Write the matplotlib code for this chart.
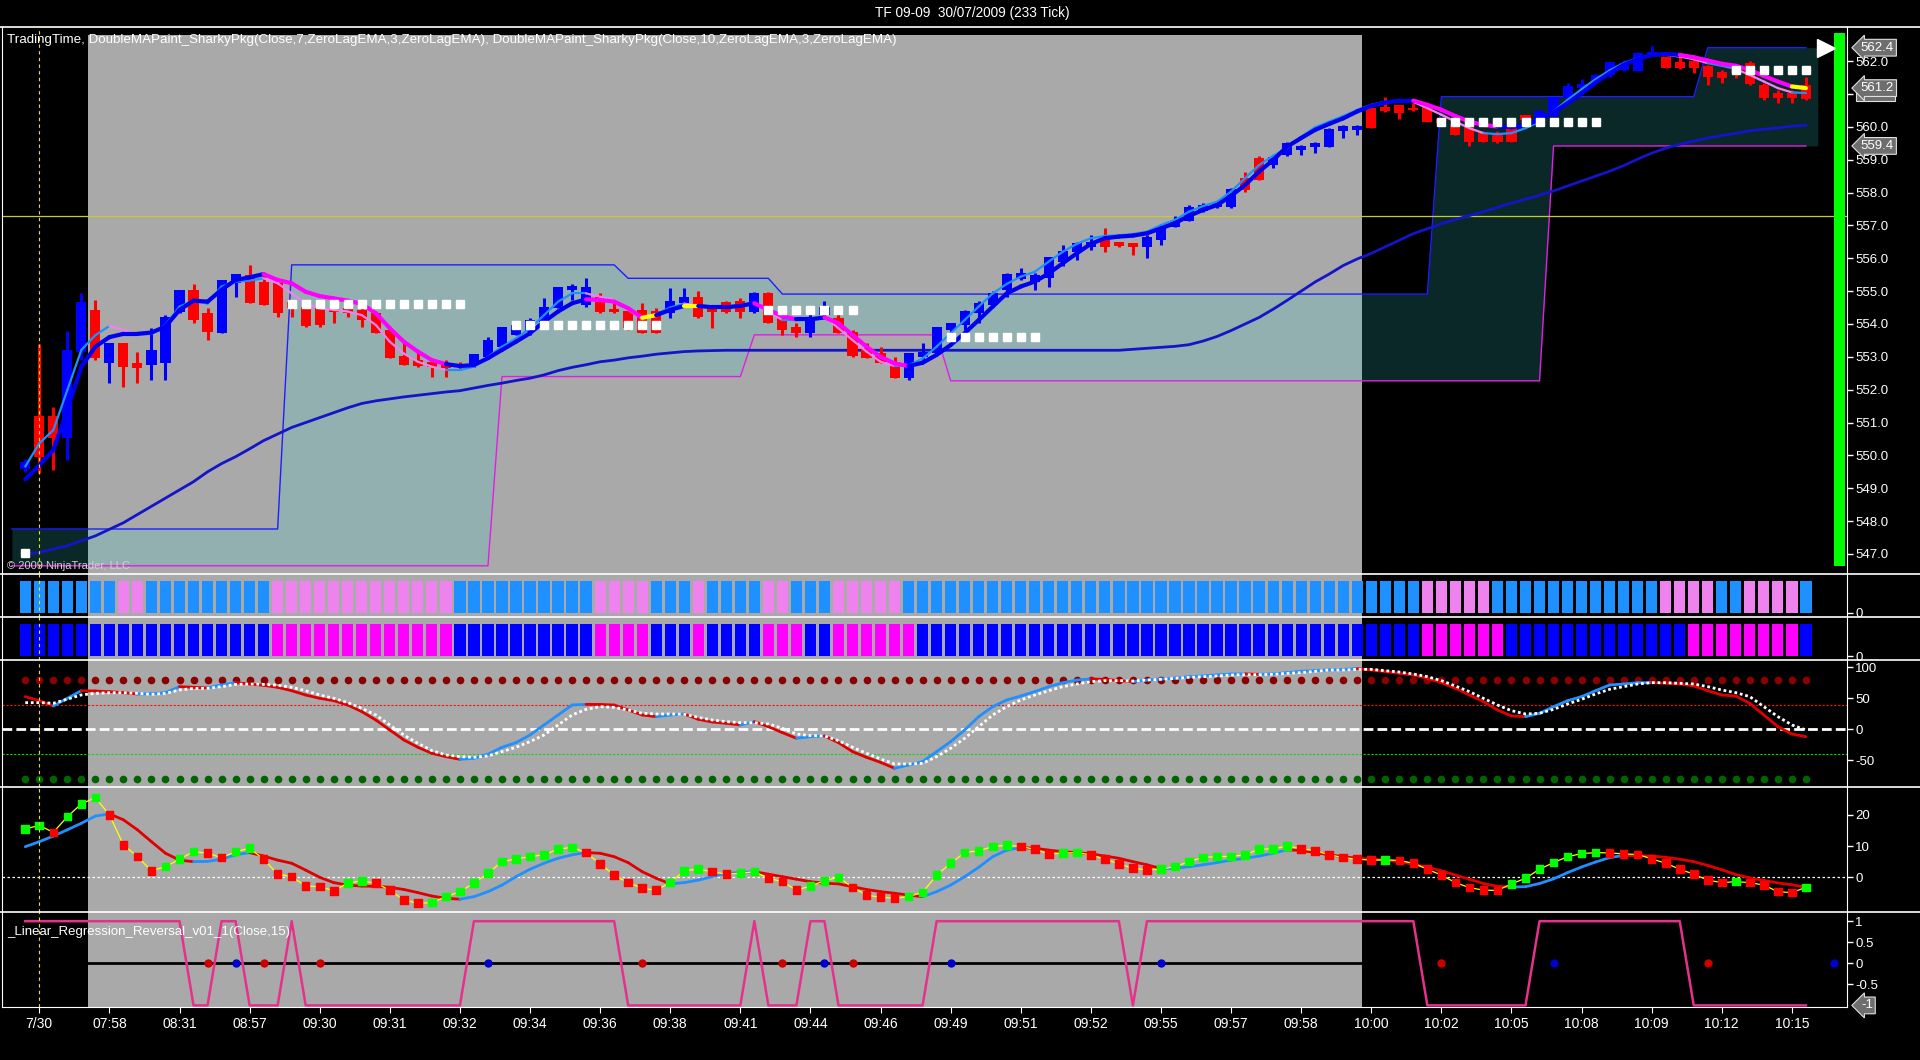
import numpy as np
import matplotlib
matplotlib.use("Agg")
import matplotlib.pyplot as plt
from matplotlib.collections import LineCollection
from matplotlib.lines import Line2D
from matplotlib.patches import Rectangle

plt.rcParams['font.family'] = ['Liberation Sans', 'DejaVu Sans']

chart_title = "TF 09-09  30/07/2009 (233 Tick)"
price_label = ("TradingTime, DoubleMAPaint_SharkyPkg(Close,7,ZeroLagEMA,3,ZeroLagEMA), "
               "DoubleMAPaint_SharkyPkg(Close,10,ZeroLagEMA,3,ZeroLagEMA)")
lrr_label = "_Linear_Regression_Reversal_v01_1(Close,15)"
copyright_text = "\u00a9 2009 NinjaTrader, LLC"

time_labels = ["7/30", "07:58", "08:31", "08:57", "09:30", "09:31", "09:32", "09:34",
               "09:36", "09:38", "09:41", "09:44", "09:46", "09:49", "09:51", "09:52",
               "09:55", "09:57", "09:58", "10:00", "10:02", "10:05", "10:08", "10:09",
               "10:12", "10:15"]
label_first, label_every = 1, 5

# session shading (TradingTime) and day break, in bar units
session_start, session_end = 4.5, 95.35
session_break = 1

# --- price bars ---
opens = [549.6, 551.2, 551.2, 550.52, 553.15, 554.43, 552.8, 553.41, 552.8, 552.75,
         552.82, 554.38, 555.04, 554.33, 553.74, 555.24, 555.49, 555.29, 555.24, 554.68,
         554.53, 554.48, 554.48, 554.48, 554.43, 554.33, 553.82, 553.03, 552.9, 552.85,
         552.8, 552.78, 552.75, 553.0, 553.31, 553.66, 553.77, 554.07, 554.48, 555.02,
         554.58, 554.83, 554.45, 554.41, 554.42, 554.4, 554.33, 554.63, 554.81, 554.53,
         554.66, 554.71, 554.35, 554.95, 554.17, 553.92, 553.72, 554.27, 554.17, 553.77,
         553.26, 553.11, 552.85, 552.35, 553.0, 553.13, 553.82, 553.97, 554.33, 554.58,
         555.04, 555.36, 555.29, 555.39, 555.9, 556.2, 556.35, 556.61, 556.51, 556.46,
         556.35, 556.56, 556.96, 557.15, 557.45, 557.57, 557.57, 558.44, 559.04, 558.84,
         559.15, 559.3, 559.4, 559.38, 559.86, 559.89, 560.57, 560.62, 560.67, 560.57,
         560.64, 560.23, 560.06, 559.99, 559.84, 559.81, 559.99, 560.36, 560.16, 560.33,
         560.87, 561.18, 561.38, 561.58, 561.74, 561.69, 562.19, 562.14, 561.96, 561.99,
         561.84, 561.66, 561.74, 561.94, 561.28, 561.02, 561.02, 561.28]
highs = [549.9, 553.38, 551.48, 553.79, 554.93, 554.73, 553.41, 553.41, 553.16, 553.87,
         554.27, 555.04, 555.21, 554.48, 555.34, 555.52, 555.80, 555.49, 555.24, 554.73,
         554.58, 554.58, 554.58, 554.63, 554.58, 554.38, 553.82, 553.51, 553.21, 552.9,
         552.9, 552.85, 553.1, 553.6, 553.92, 554.02, 554.17, 554.78, 555.14, 555.21,
         555.39, 554.93, 554.63, 554.43, 554.63, 554.48, 555.09, 555.09, 555.0, 554.53,
         554.71, 554.78, 554.98, 554.98, 554.42, 554.02, 554.42, 554.71, 554.42, 553.82,
         553.41, 553.31, 553.0, 553.11, 553.41, 553.92, 554.02, 554.42, 554.71, 555.0,
         555.54, 555.7, 555.54, 556.05, 556.41, 556.51, 556.71, 556.93, 556.51, 556.48,
         556.71, 556.96, 557.29, 557.62, 557.69, 557.72, 558.13, 558.64, 559.11, 559.14,
         559.55, 559.45, 559.55, 559.96, 560.06, 560.06, 560.62, 560.92, 560.67, 560.72,
         560.67, 560.26, 560.11, 560.01, 559.86, 559.86, 560.03, 560.37, 560.52, 560.92,
         561.33, 561.45, 561.61, 561.96, 562.04, 562.29, 562.45, 562.14, 562.14, 562.09,
         561.89, 561.74, 561.79, 561.99, 561.33, 561.13, 561.13, 561.53]
lows = [549.5, 549.47, 549.55, 549.86, 552.9, 552.9, 552.19, 552.09, 552.19, 552.29,
        552.29, 554.32, 554.02, 553.51, 553.74, 554.81, 554.63, 554.58, 554.22, 554.22,
        553.92, 553.92, 554.02, 554.22, 553.92, 553.74, 552.96, 552.75, 552.7, 552.4,
        552.4, 552.6, 552.7, 553.0, 553.31, 553.66, 553.66, 554.07, 554.48, 554.73,
        554.53, 554.33, 554.33, 553.82, 553.72, 553.72, 554.17, 554.58, 554.17, 553.87,
        554.33, 554.17, 554.33, 554.02, 553.67, 553.61, 553.61, 554.22, 553.72, 553.0,
        552.95, 552.8, 552.35, 552.3, 552.8, 553.11, 553.72, 553.82, 554.02, 554.58,
        554.83, 555.34, 555.04, 555.14, 555.75, 555.95, 556.25, 556.2, 556.35, 556.1,
        556.0, 556.41, 556.96, 557.12, 557.42, 557.52, 557.52, 558.03, 558.37, 558.74,
        559.1, 559.15, 559.2, 559.38, 559.66, 559.76, 559.96, 560.44, 560.23, 560.47,
        560.16, 560.11, 559.76, 559.42, 559.55, 559.5, 559.55, 560.21, 560.13, 560.26,
        560.87, 561.15, 561.35, 561.53, 561.69, 561.69, 562.19, 561.79, 561.76, 561.63,
        561.28, 561.33, 561.48, 561.28, 560.82, 560.72, 560.74, 560.82]
closes = [549.8, 549.96, 550.52, 553.21, 554.66, 552.95, 553.41, 552.7, 552.65, 553.21,
          554.22, 555.04, 554.12, 553.77, 555.34, 555.52, 554.63, 554.58, 554.33, 554.48,
          553.94, 553.97, 554.38, 554.33, 554.12, 553.74, 552.96, 552.75, 552.72, 552.7,
          552.65, 552.68, 553.1, 553.51, 553.9, 553.97, 554.12, 554.53, 555.14, 555.16,
          555.14, 554.35, 554.35, 553.87, 553.74, 553.74, 554.71, 554.81, 554.22, 554.38,
          554.35, 554.38, 554.95, 554.04, 553.82, 553.72, 554.17, 554.53, 553.74, 553.03,
          552.95, 552.82, 552.35, 553.11, 553.16, 553.9, 554.02, 554.4, 554.65, 554.95,
          555.52, 555.54, 555.49, 556.03, 556.23, 556.46, 556.51, 556.33, 556.38, 556.35,
          556.66, 556.91, 557.12, 557.55, 557.62, 557.67, 558.11, 558.08, 558.38, 559.09,
          559.5, 559.42, 559.52, 559.93, 560.03, 560.03, 559.96, 560.47, 560.42, 560.5,
          560.16, 560.13, 559.76, 559.55, 559.55, 559.55, 559.55, 560.22, 560.47, 560.9,
          561.25, 561.31, 561.58, 561.96, 561.94, 562.24, 562.29, 561.79, 561.79, 561.79,
          561.53, 561.48, 561.63, 561.31, 560.87, 560.87, 560.87, 560.84]

# --- moving averages on price ---
ma_slow = [549.27, 549.7, 550.16, 551.38, 552.7, 553.31, 553.6, 553.7, 553.7, 553.74,
           553.92, 554.43, 554.71, 554.68, 555.04, 555.34, 555.42, 555.52, 555.34, 555.24,
           554.98, 554.85, 554.78, 554.71, 554.61, 554.33, 553.87, 553.46, 553.16, 552.9,
           552.78, 552.72, 552.75, 552.96, 553.21, 553.46, 553.72, 554.07, 554.38, 554.63,
           554.75, 554.73, 554.68, 554.48, 554.19, 554.27, 554.43, 554.55, 554.55, 554.51,
           554.51, 554.55, 554.63, 554.43, 554.24, 554.14, 554.14, 554.2, 554.02, 553.67,
           553.31, 553.0, 552.8, 552.72, 552.82, 553.06, 553.36, 553.72, 554.12, 554.53,
           554.93, 555.14, 555.29, 555.54, 555.85, 556.15, 556.44, 556.61, 556.66, 556.69,
           556.76, 556.91, 557.07, 557.29, 557.47, 557.62, 557.9, 558.23, 558.64, 558.99,
           559.4, 559.66, 559.91, 560.09, 560.26, 560.47, 560.64, 560.74, 560.8, 560.8,
           560.67, 560.52, 560.33, 560.16, 560.06, 560.01, 559.99, 560.06, 560.21, 560.44,
           560.72, 561.02, 561.35, 561.63, 561.89, 562.06, 562.19, 562.22, 562.19, 562.12,
           562.02, 561.92, 561.86, 561.73, 561.55, 561.38, 561.23, 561.18]
ma_fast = [549.66, 550.37, 550.77, 551.99, 553.21, 553.66, 553.94, 553.82, 553.68, 553.7,
           553.97, 554.53, 554.71, 554.62, 555.14, 555.29, 555.32, 555.39, 555.24, 554.93,
           554.63, 554.48, 554.43, 554.38, 554.27, 553.97, 553.46, 553.1, 552.85, 552.7,
           552.6, 552.6, 552.7, 553.0, 553.31, 553.56, 553.87, 554.27, 554.68, 554.93,
           554.93, 554.83, 554.73, 554.43, 554.15, 554.3, 554.5, 554.62, 554.55, 554.5,
           554.53, 554.58, 554.66, 554.38, 554.12, 554.12, 554.17, 554.22, 553.87, 553.51,
           553.16, 552.85, 552.72, 552.74, 552.95, 553.31, 553.72, 554.12, 554.53, 554.93,
           555.22, 555.44, 555.59, 555.9, 556.2, 556.44, 556.61, 556.68, 556.7, 556.74,
           556.81, 557.01, 557.17, 557.42, 557.59, 557.72, 558.03, 558.44, 558.84, 559.12,
           559.35, 559.7, 559.99, 560.16, 560.33, 560.52, 560.67, 560.77, 560.8, 560.76,
           560.57, 560.37, 560.16, 559.96, 559.81, 559.78, 559.81, 559.96, 560.16, 560.47,
           560.82, 561.15, 561.45, 561.72, 561.94, 562.09, 562.19, 562.19, 562.14, 562.06,
           561.94, 561.86, 561.76, 561.58, 561.38, 561.18, 561.05, 561.03]
ma_long = [547.0, 547.05, 547.15, 547.25, 547.4, 547.55, 547.75, 547.95, 548.2, 548.45,
           548.7, 548.95, 549.2, 549.5, 549.75, 549.96, 550.2, 550.45, 550.65, 550.85,
           551.0, 551.15, 551.3, 551.45, 551.58, 551.66, 551.72, 551.78, 551.83, 551.88,
           551.93, 551.97, 552.05, 552.13, 552.2, 552.28, 552.35, 552.45, 552.58, 552.68,
           552.76, 552.85, 552.9, 552.97, 553.02, 553.08, 553.12, 553.16, 553.18, 553.19,
           553.2, 553.2, 553.2, 553.2, 553.2, 553.2, 553.2, 553.2, 553.2, 553.2,
           553.2, 553.2, 553.2, 553.2, 553.2, 553.2, 553.2, 553.2, 553.2, 553.2,
           553.2, 553.2, 553.2, 553.2, 553.2, 553.2, 553.2, 553.2, 553.2, 553.23,
           553.26, 553.29, 553.32, 553.37, 553.48, 553.62, 553.8, 554.0, 554.2, 554.45,
           554.72, 555.0, 555.28, 555.52, 555.78, 555.98, 556.15, 556.35, 556.55, 556.75,
           556.9, 557.05, 557.18, 557.3, 557.42, 557.55, 557.68, 557.8, 557.92, 558.05,
           558.2, 558.35, 558.5, 558.65, 558.82, 559.02, 559.2, 559.35, 559.47, 559.57,
           559.66, 559.74, 559.8, 559.88, 559.93, 559.97, 560.02, 560.05]
cross_marks = [44, 47, 126]   # bars where the slow MA segment is painted yellow

# channel (step lines): level and first bar of each step
upper_levels = [547.76, 555.80, 555.39, 554.91, 560.92, 562.41]
upper_starts = [0, 19, 43, 54, 101, 120]
lower_levels = [546.64, 552.40, 553.67, 552.27, 559.42]
lower_starts = [0, 34, 52, 66, 109]

ref_level = 557.3
# white level dots: first bar, last bar, price
dot_rows = [(0, 0, 547.03), (19, 31, 554.6), (35, 45, 553.97), (53, 59, 554.43),
            (66, 72, 553.61), (101, 112, 560.16), (122, 127, 561.74)]
green_bar_low, green_bar_high = 546.63, 562.86

# trend paint panels: (state, run length), 1 = up
fast_runs = [(1, 7), (0, 2), (1, 9), (0, 13), (1, 10), (0, 4), (1, 3), (0, 1), (1, 4), (0, 2),
             (1, 3), (0, 5), (1, 37), (0, 5), (1, 12), (0, 4), (1, 2), (0, 4), (1, 1)]
slow_runs = [(1, 18), (0, 13), (1, 10), (0, 4), (1, 3), (0, 1), (1, 4), (0, 3), (1, 2), (0, 6),
             (1, 36), (0, 6), (1, 13), (0, 8), (1, 1)]

# --- oscillator panel ---
osc_main = [52.7, 46.2, 37.6, 50.0, 62.3, 61.8, 60.7, 59.1, 57.0, 57.3,
            59.0, 68.8, 67.7, 66.6, 71.5, 75.2, 73.1, 71.0, 67.7, 62.3,
            55.3, 50.0, 46.2, 39.2, 28.5, 15.0, -1.1, -17.2, -29.0, -38.7,
            -44.1, -48.4, -46.8, -40.3, -29.0, -21.5, -9.2, 7.0, 23.1, 39.2,
            40.3, 40.1, 39.2, 31.2, 23.1, 20.4, 23.1, 24.7, 16.1, 11.8,
            9.7, 7.0, 12.3, 4.3, -5.4, -14.5, -11.9, -10.8, -21.5, -36.0,
            -45.2, -53.3, -62.9, -57.6, -52.2, -36.0, -19.9, -1.1, 20.4, 36.5,
            47.3, 53.7, 60.7, 68.8, 75.2, 79.5, 81.2, 80.6, 78.5, 76.9,
            79.5, 81.2, 82.2, 84.9, 86.0, 87.6, 89.2, 89.3, 88.7, 89.2,
            91.4, 93.5, 94.6, 95.7, 96.7, 97.8, 95.7, 93.0, 90.3, 87.6,
            82.2, 75.2, 66.1, 55.3, 44.6, 31.2, 21.5, 20.4, 25.8, 36.5,
            46.2, 52.7, 62.3, 71.5, 73.1, 75.2, 75.3, 74.2, 73.1, 69.9,
            62.3, 55.3, 53.7, 41.9, 23.1, 4.3, -7.6, -11.9]
osc_signal = [43.0, 43.0, 42.0, 48.6, 55.5, 58.0, 59.0, 59.0, 58.0, 56.4,
              58.0, 63.4, 66.0, 66.0, 68.8, 72.5, 73.1, 72.5, 71.0, 67.7,
              62.3, 55.3, 50.0, 43.0, 33.8, 23.1, 7.0, -9.2, -22.6, -34.4,
              -41.4, -44.1, -45.2, -43.0, -36.0, -29.0, -19.9, -9.2, 7.0, 23.1,
              32.2, 36.5, 35.4, 31.2, 25.8, 24.7, 24.7, 24.2, 19.3, 15.0,
              12.3, 10.7, 10.7, 8.6, 1.6, -7.6, -10.2, -10.8, -18.3, -29.0,
              -38.7, -47.9, -55.9, -55.9, -54.9, -44.1, -30.7, -14.5, 4.3, 23.1,
              36.5, 47.3, 55.3, 62.3, 68.8, 73.1, 76.9, 78.5, 78.5, 77.9,
              79.5, 80.6, 82.2, 83.8, 84.9, 86.0, 87.6, 88.1, 88.1, 88.7,
              90.3, 91.4, 93.5, 95.7, 95.7, 96.7, 96.7, 94.6, 92.4, 89.2,
              84.9, 78.5, 69.9, 60.7, 50.0, 39.2, 30.1, 24.7, 25.8, 32.2,
              40.8, 48.4, 57.0, 64.5, 68.8, 73.1, 75.2, 75.2, 74.2, 73.1,
              68.8, 63.4, 59.1, 52.7, 36.5, 20.4, 7.0, -1.1]
osc_levels = {"ob_dots": 80, "ob_line": 40, "os_line": -40, "os_dots": -80}

# --- momentum panel ---
mom_line = [9.8, 11.4, 13.2, 15.2, 17.3, 19.6, 20.3, 18.4, 15.2, 11.4,
            7.7, 5.5, 5.0, 5.1, 5.8, 7.2, 7.9, 6.8, 5.5, 4.5,
            2.3, 0.0, -1.7, -2.5, -2.8, -2.9, -3.2, -3.9, -4.9, -6.0,
            -6.7, -7.0, -6.2, -4.6, -2.5, 0.2, 2.6, 4.5, 6.1, 7.2,
            7.9, 7.7, 6.6, 4.7, 1.8, -0.3, -2.1, -1.7, -0.9, 0.2,
            1.3, 1.5, 1.8, 1.0, 0.2, -0.6, -1.4, -1.9, -2.1, -3.0,
            -3.9, -4.6, -5.1, -5.7, -6.2, -4.6, -2.5, 0.2, 3.2, 6.6,
            8.7, 9.5, 9.3, 8.7, 8.2, 7.9, 7.5, 6.8, 6.1, 5.0,
            4.0, 2.8, 2.9, 3.4, 4.0, 4.7, 5.5, 6.1, 6.8, 7.7,
            8.8, 8.6, 7.9, 7.2, 6.6, 6.1, 5.8, 5.5, 5.0, 4.2,
            3.2, 2.1, 0.7, -0.6, -2.0, -2.9, -3.1, -3.0, -2.0, -0.5,
            1.5, 3.3, 4.9, 6.3, 7.0, 6.95, 6.8, 6.4, 5.8, 5.0,
            3.8, 2.4, 0.9, -0.2, -1.0, -1.8, -2.4, -3.2]
mom_dots = [15.5, 16.6, 14.4, 19.4, 23.5, 25.5, 20.0, 10.4, 6.6, 2.1,
            3.4, 5.8, 8.2, 7.7, 6.3, 8.2, 9.3, 5.8, 1.0, 0.2,
            -2.8, -3.0, -4.3, -1.9, -1.1, -1.9, -4.1, -7.3, -8.3, -8.1,
            -6.2, -4.6, -1.9, 1.3, 5.0, 5.9, 6.6, 7.2, 9.0, 9.6,
            7.9, 4.3, 0.7, -1.7, -3.5, -4.1, -1.7, 2.1, 2.6, 1.8,
            1.0, 1.3, 1.8, -0.3, -1.4, -4.1, -2.8, -1.1, 0.0, -3.2,
            -5.7, -6.4, -6.7, -6.2, -4.8, 0.7, 4.5, 7.9, 8.5, 9.8,
            10.3, 9.8, 9.0, 7.5, 7.7, 7.9, 7.2, 5.8, 4.3, 2.9,
            2.4, 2.6, 3.4, 5.0, 6.4, 6.6, 6.7, 7.2, 9.0, 9.1,
            10.0, 9.1, 8.5, 7.2, 6.3, 5.8, 5.5, 5.6, 5.4, 4.5,
            2.6, 0.7, -1.7, -3.3, -4.1, -4.2, -2.1, -0.3, 2.6, 4.7,
            6.6, 7.6, 7.9, 7.8, 7.5, 7.3, 5.9, 4.5, 2.6, 1.0,
            -0.9, -1.7, -1.4, -1.7, -2.5, -4.6, -4.9, -3.2]

# --- linear regression reversal panel ---
lrr_runs = [(1, 12), (-1, 2), (1, 2), (-1, 3), (1, 1), (-1, 12), (1, 11), (-1, 9), (1, 1),
            (-1, 3), (1, 2), (-1, 7), (1, 14), (-1, 1), (1, 20), (-1, 8), (1, 11), (-1, 9)]
lrr_red_dots = [13, 17, 21, 44, 54, 59, 101, 120]
lrr_blue_dots = [15, 33, 57, 66, 81, 109, 129]


n = len(closes)
x = np.arange(n)
opens, highs, lows, closes = map(np.array, (opens, highs, lows, closes))


def expand_runs(runs):
    return np.concatenate([np.full(length, val) for val, length in runs])


def expand_steps(levels, starts):
    return np.repeat(levels, np.diff(starts + [n]))


def seg_line(ax, xs, ys, colors, lw, z):
    pts = np.column_stack([xs, ys])
    segs = np.stack([pts[:-1], pts[1:]], axis=1)
    ax.add_collection(LineCollection(segs, colors=colors, linewidths=lw,
                                     capstyle='round', zorder=z))


def slope_colors(vals, up_col, down_col):
    d = np.diff(vals)
    return [up_col if v >= 0 else down_col for v in d]


fast_up = expand_runs(fast_runs)
slow_up = expand_runs(slow_runs)
lrr = expand_runs(lrr_runs)
upper = expand_steps(upper_levels, upper_starts)
lower = expand_steps(lower_levels, lower_starts)

W, H = 1920, 1060
fig = plt.figure(figsize=(W / 100, H / 100), dpi=100, facecolor='black')
left_px, right_px = 2, 1847
xlim = (-1.66, 129.93)
bounds = [27, 574, 617, 660, 786.7, 912.3, 1007]


def panel(top, bottom, ylim, span_top=1.0):
    ax = fig.add_axes([left_px / W, 1 - bottom / H, (right_px - left_px) / W, (bottom - top) / H])
    ax.set_facecolor('black')
    ax.set_xlim(*xlim)
    ax.set_ylim(*ylim)
    for side in ('top', 'bottom'):
        ax.spines[side].set_visible(False)
    ax.spines['left'].set_color('white')
    ax.spines['right'].set_color('white')
    ax.yaxis.tick_right()
    ax.tick_params(axis='y', colors='white', labelsize=9.5, length=4, width=1,
                   direction='out', pad=2)
    ax.tick_params(axis='x', bottom=False, labelbottom=False)
    ax.axvspan(session_start, session_end, ymax=span_top, color='#A9A9A9', lw=0, zorder=0)
    ax.axvline(session_break, color='#E8E800', lw=0.8, ls=(0, (3, 3)), zorder=9)
    return ax


def tag(ax, value, text):
    ax.annotate(text, xy=(1, value), xycoords=('axes fraction', 'data'), xytext=(10, 0),
                textcoords='offset points', ha='left', va='center', color='white',
                fontsize=9.5, annotation_clip=False, zorder=10,
                bbox=dict(boxstyle='larrow,pad=0.18', fc='#6E6E6E', ec='#E0E0E0', lw=0.8))


# ---------- price panel ----------
ax1 = panel(bounds[0], bounds[1], (546.39, 563.04), span_top=0.985)
pad_l, pad_r = 0.95, 0.85
xe = np.concatenate([[x[0] - pad_l], x, [x[-1] + pad_r]])
ue = np.concatenate([[upper[0]], upper, [upper[-1]]])
le = np.concatenate([[lower[0]], lower, [lower[-1]]])
ax1.fill_between(xe, le, ue, color=(60 / 255, 205 / 255, 205 / 255), alpha=0.2, lw=0, zorder=1)
ax1.plot(xe[:-1], ue[:-1], color='#1E1EFF', lw=1, zorder=2)
ax1.plot(xe[:-1], le[:-1], color='#E020E0', lw=1, zorder=2)
ax1.axhline(ref_level, color='#C8C832', lw=0.9, zorder=2)
ax1.plot(x, ma_long, color='#1414C8', lw=2, zorder=3)

candle_cols = np.where(closes >= opens, '#0000FF', '#FF0000')
ax1.vlines(x, lows, highs, colors=candle_cols, lw=2.2, zorder=4)
body_h = np.maximum(np.abs(closes - opens), 0.04)
ax1.bar(x, body_h, bottom=np.minimum(opens, closes), width=0.72, color=candle_cols, zorder=4)

fast_cols = ['#1E90FF' if u else '#EE82EE' for u in fast_up[1:]]
seg_line(ax1, x, ma_fast, fast_cols, 1.6, 5)
slow_cols = ['#0000F0' if u else '#FF00FF' for u in slow_up[1:]]
for i in cross_marks:
    slow_cols[i] = '#FFFF00'
seg_line(ax1, x, ma_slow, slow_cols, 3.0, 6)

for s, e, p in dot_rows:
    xs = np.arange(s, e + 1)
    ax1.plot(xs, np.full(len(xs), p), 's', color='white', ms=6, zorder=7)

ax1.bar(n + 1.4, green_bar_high - green_bar_low, bottom=green_bar_low, width=0.8,
        color='#00FF00', zorder=5)
ax1.plot(n + 0.4, upper[-1], marker='>', color='white', ms=13, zorder=8)

# value markers on the price scale; a tick label covered by a marker is left out
tag_values = [upper[-1], ma_slow[-1], lower[-1]]
price_ticks = np.arange(547, 562.5, 1.0)
ax1.set_yticks(price_ticks)
ax1.set_yticklabels(["" if any(abs(t - v) < 0.3 for v in tag_values) else f"{t:.1f}"
                     for t in price_ticks])
tag(ax1, upper[-1], f"{upper[-1]:.1f}")
# the fast-MA marker sits almost fully behind the slow-MA one: draw only its frame
ax1.add_patch(Rectangle((1.005, ma_fast[-1] - 0.24), 0.021, 0.48,
                        transform=ax1.get_yaxis_transform(), fc='#6E6E6E', ec='#E0E0E0',
                        lw=0.8, clip_on=False, zorder=9))
tag(ax1, ma_slow[-1], f"{ma_slow[-1]:.1f}")
tag(ax1, lower[-1], f"{lower[-1]:.1f}")

# ---------- trend paint panels ----------
ax2 = panel(bounds[1], bounds[2], (-0.136, 1.22))
ax2.bar(x, 1.0, width=0.8, color=np.where(fast_up == 1, '#1E90FF', '#EE82EE'), zorder=2)
ax2.set_yticks([0])
ax2.set_yticklabels(['0'])

ax3 = panel(bounds[2], bounds[3], (-0.126, 1.23))
ax3.bar(x, 1.0, width=0.8, color=np.where(slow_up == 1, '#0000FF', '#FF00FF'), zorder=2)
ax3.set_yticks([0])
ax3.set_yticklabels(['0'])

# ---------- oscillator ----------
ax4 = panel(bounds[3], bounds[4], (-92.6, 111.8))
ax4.plot(x, np.full(n, osc_levels["ob_dots"]), 'o', color='#8B0000', ms=4.5, zorder=2)
ax4.plot(x, np.full(n, osc_levels["os_dots"]), 'o', color='#006400', ms=4.5, zorder=2)
ax4.axhline(osc_levels["ob_line"], color='#FF1010', lw=0.8, ls=(0, (2, 1.5)), zorder=2)
ax4.axhline(osc_levels["os_line"], color='#10D010', lw=0.8, ls=(0, (2, 1.5)), zorder=2)
ax4.axhline(0, color='white', lw=2, ls=(0, (3.5, 1.5)), zorder=2)
seg_line(ax4, x, osc_main, slope_colors(osc_main, '#1E90FF', '#E00000'), 2.0, 3)
ax4.plot(x, osc_signal, color='white', lw=2, ls=(0, (1, 1)), zorder=4)
ax4.set_yticks([-50, 0, 50, 100])
ax4.set_yticklabels(['-50', '0', '50', '100'])

# ---------- momentum ----------
ax5 = panel(bounds[4], bounds[5], (-11.2, 29.0))
ax5.axhline(0, color='white', lw=0.9, ls=(0, (2, 2)), zorder=2)
seg_line(ax5, x, mom_line, slope_colors(mom_line, '#1E90FF', '#E00000'), 2.0, 3)
ax5.plot(x, mom_dots, color='#FFFF00', lw=0.9, zorder=4)
dot_cols = ['#00FF00'] + slope_colors(mom_dots, '#00FF00', '#FF0000')
ax5.scatter(x, mom_dots, marker='s', s=30, c=dot_cols, zorder=5)
ax5.set_yticks([0, 10, 20])
ax5.set_yticklabels(['0', '10', '20'])

# ---------- linear regression reversal ----------
ax6 = panel(bounds[5], bounds[6], (-1.038, 1.211))
ax6.axhline(0, color='black', lw=2, zorder=2)
ax6.plot(x, lrr, color='#E6318C', lw=1.8, zorder=3)
ax6.plot(lrr_red_dots, np.zeros(len(lrr_red_dots)), 'o', color='#CC0000', ms=5, zorder=4)
ax6.plot(lrr_blue_dots, np.zeros(len(lrr_blue_dots)), 'o', color='#0000CC', ms=5, zorder=4)
ax6.set_yticks([-0.5, 0, 0.5, 1])
ax6.set_yticklabels(['-0.5', '0', '0.5', '1'])
tag(ax6, lrr[-1], f"{lrr[-1]:.0f}")
ax6.spines['bottom'].set_visible(True)
ax6.spines['bottom'].set_color('white')
ax6.set_xticks(x[label_first::label_every])
ax6.set_xticklabels(time_labels)
ax6.tick_params(axis='x', bottom=True, labelbottom=True, colors='white', length=4,
                direction='out', labelsize=10, pad=3)

# panel separators across the full width
for b in bounds[:-1]:
    fig.add_artist(Line2D([0, 1], [1 - b / H] * 2, transform=fig.transFigure,
                          color='white', lw=1.2))

fig.text(972 / W, 1 - 13 / H, chart_title, ha='center', va='center', color='white', fontsize=9.8)
fig.text(7 / W, 1 - 40 / H, price_label, ha='left', va='center', color='white', fontsize=9.6)
fig.text(7 / W, 1 - 566 / H, copyright_text, ha='left', va='center', color='#D0D0D0', fontsize=8)
fig.text(7 / W, 1 - 932 / H, lrr_label, ha='left', va='center', color='white', fontsize=9.5)

fig.savefig('out.png', dpi=100, facecolor='black')
